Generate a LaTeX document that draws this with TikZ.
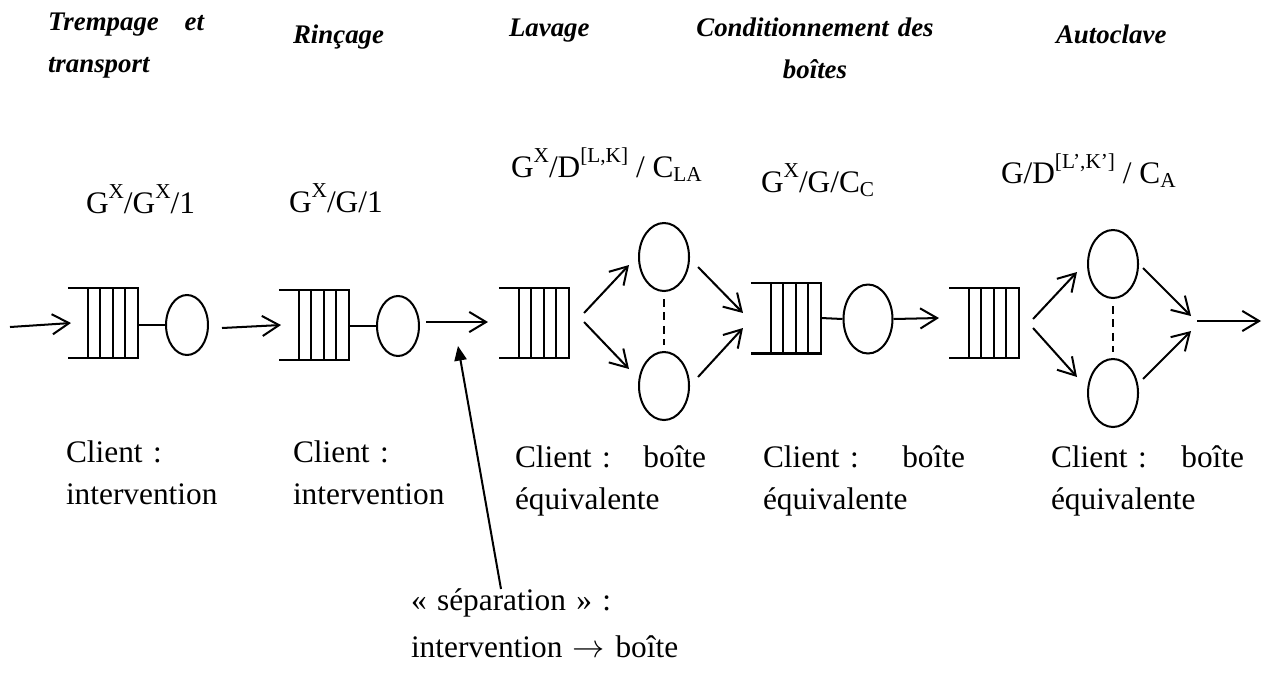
\documentclass[tikz,border=0pt]{standalone}
\usepackage{fontspec}
\setmainfont{Liberation Serif}
\usetikzlibrary{arrows.meta,calc,shapes.geometric}
\newcommand{\pxu}{0.0157cm}
\newcommand{\supx}[1]{\raisebox{6.5pt}{\fontsize{9.5}{10}\selectfont #1}}
\newcommand{\subx}[1]{\raisebox{-2pt}{\fontsize{9.5}{10}\selectfont #1}}

\begin{document}
\begin{tikzpicture}[x=\pxu,y=-\pxu,line width=0.9pt,
  flow/.style={-{Straight Barb[length=7.5pt,width=9pt]}},
  pointer/.style={-{Triangle[length=6.5pt,width=5.5pt]}},
  queue/.style={minimum width=1.068cm,minimum height=1.068cm,inner sep=0pt},
  server/.style={draw,ellipse,inner sep=0pt,minimum width=0.659cm,minimum height=0.942cm},
  bigserver/.style={server,minimum width=0.785cm,minimum height=1.068cm},
  stage/.style={font=\fontsize{12}{18.8}\selectfont\bfseries\itshape,inner sep=0pt},
  model/.style={font=\fontsize{14}{17}\selectfont,inner sep=0pt,anchor=base west},
  client/.style={font=\fontsize{14}{18.8}\selectfont,inner sep=0pt,anchor=base west,align=left,text width=3.2cm}]
\useasboundingbox (0,0) rectangle (1263,699);

% stage titles
\node[stage,anchor=base west,text width=2.45cm,align=left] (t1) at (47,30) {Trempage\hfill et\\transport};
\node[stage,anchor=base west] (t2) at (292,43) {Rinçage};
\node[stage,anchor=base west] (t3) at (508,36) {Lavage};
\node[stage,anchor=base,text width=3.8cm,align=center] (t4) at (815,36) {Conditionnement des\\boîtes};
\node[stage,anchor=base west] (t5) at (1055,43) {Autoclave};

% queueing models
\node[model] (f1) at (85,213) {G\supx{X}/G\supx{X}/1};
\node[model] (f2) at (288,212) {G\supx{X}/G/1};
\node[model] (f3) at (510,177) {G\supx{X}/D\supx{[L,K]} / C\subx{LA}};
\node[model] (f4) at (760,192) {G\supx{X}/G/C\subx{C}};
\node[model] (f5) at (1000,183) {G/D\supx{[L’,K’]} / C\subx{A}};

% queues and servers
\node[queue] (q1) at (103,323) {};
\node[queue] (q2) at (314,325) {};
\node[queue] (q3) at (534,323) {};
\node[queue,minimum height=1.083cm] (q4) at (786,318) {};
\node[queue] (q5) at (984,323) {};
\foreach \q in {q1,q2,q3,q4,q5}{
  \draw (\q.north west) -- (\q.north east) -- (\q.south east) -- (\q.south west);
  \foreach \f in {.28,.46,.64,.82}
    \draw ($(\q.north west)!\f!(\q.north east)$) -- ($(\q.south west)!\f!(\q.south east)$);
}
\node[server] (s1) at (187,325) {};
\node[server] (s2) at (398,326) {};
\node[bigserver] (s3a) at (664,257) {};
\node[bigserver] (s3b) at (664,386) {};
\node[bigserver,minimum width=0.769cm,minimum height=1.083cm] (s4) at (868,319) {};
\node[bigserver] (s5a) at (1113,264) {};
\node[bigserver] (s5b) at (1113,393) {};

% flows
\coordinate (in) at (10,327);
\coordinate (j) at (1194,323);
\coordinate (out) at (1261,321);
\draw[flow] (in) -- ([shift={(3,0)}]q1.west);
\draw (q1.east |- s1.west) -- (s1.west);
\draw[flow] ([shift={(13,3)}]s1.east) -- ([shift={(2,0)}]q2.west);
\draw (q2.east |- s2.west) -- (s2.west);
\draw[flow] ([shift={(6,-4)}]s2.east) -- ([shift={(-11,-1)}]q3.west);
\draw[flow] ([shift={(15,-10)}]q3.east) -- ([shift={(-9,8)}]s3a.west);
\draw[flow] ([shift={(15,-1)}]q3.east) -- ([shift={(-9,-17)}]s3b.west);
\draw[dash pattern=on 3.5pt off 2.5pt] ([shift={(0,7)}]s3a.south) -- ([shift={(0,-6)}]s3b.north);
\draw[flow] ([shift={(8,10)}]s3a.east) -- ([shift={(-8,-5)}]q4.west);
\draw[flow] ([shift={(8,-9)}]s3b.east) -- ([shift={(-8,10)}]q4.west);
\draw (q4.east) -- (s4.west);
\draw[flow] (s4.east) -- ([shift={(-10,-5)}]q5.west);
\draw[flow] ([shift={(14,-4)}]q5.east) -- ([shift={(-10,8)}]s5a.west);
\draw[flow] ([shift={(14,5)}]q5.east) -- ([shift={(-10,-16)}]s5b.west);
\draw[dash pattern=on 3.5pt off 2.5pt] ([shift={(0,7)}]s5a.south) -- ([shift={(0,-6)}]s5b.north);
\draw[flow] ([shift={(4,4)}]s5a.east) -- ([shift={(-3,-7)}]j);
\draw[flow] ([shift={(4,-14)}]s5b.east) -- ([shift={(-3,8)}]j);
\draw[flow] ([shift={(3,-2)}]j) -- (out);

% customers
\node[client] (c1) at (65,462) {Client :\\intervention};
\node[client] (c2) at (292,462) {Client :\\intervention};
\node[client,text width=3.0cm] (c3) at (514,467) {Client :\hfill boîte\\équivalente};
\node[client,text width=3.17cm] (c4) at (762,467) {Client :\hfill boîte\\équivalente};
\node[client,text width=3.03cm] (c5) at (1050,467) {Client :\hfill boîte\\équivalente};

% separation
\coordinate (septip) at (458,346);
\coordinate (sepfoot) at (501,589);
\node[client,text width=6cm,font=\fontsize{14}{21.4}\selectfont] (sep) at (410,610) {« séparation » :\\intervention $\rightarrow$ boîte};
\draw[pointer] (sepfoot) -- (septip);
\end{tikzpicture}
\end{document}
